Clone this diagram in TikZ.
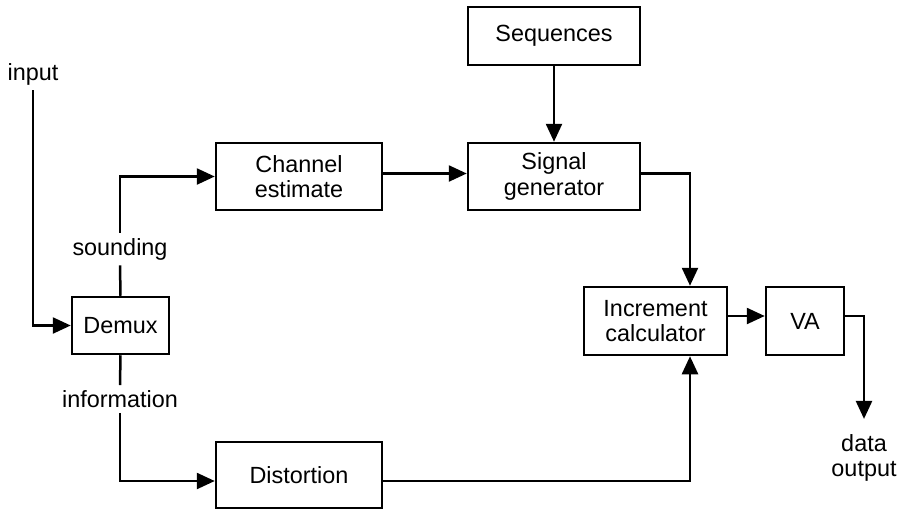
\documentclass[tikz,border=0pt]{standalone}
\usepackage{fontspec}
\setmainfont{Liberation Sans}
\usetikzlibrary{arrows.meta}
\begin{document}
\begin{tikzpicture}[x=0.5pt,y=-0.5pt,
  txt/.style={font=\fontsize{11.7}{12.8}\selectfont},
  box/.style={txt,draw,line width=1.25pt,inner sep=0pt,align=center},
  lbl/.style={txt,inner sep=2.5pt,align=center},
  seg/.style={line width=1.25pt},
  conn/.style={seg,-{Triangle[length=9pt,width=8pt]}}]
\useasboundingbox (0,0) rectangle (905,509);
\node[box,minimum width=48.5pt,minimum height=28.5pt] (demux) at (120.5,325.5) {Demux};
\node[box,minimum width=83pt,minimum height=33.5pt] (chan) at (299,176.5) {Channel\\estimate};
\node[box,minimum width=86pt,minimum height=29pt] (seq) at (554,36) {Sequences};
\node[box,minimum width=86pt,minimum height=33.5pt] (sig) at (554,176.5) {Signal\\generator};
\node[box,minimum width=71.5pt,minimum height=34pt] (inc) at (655.5,321) {Increment\\calculator};
\node[box,minimum width=39pt,minimum height=34pt] (va) at (805,321) {VA};
\node[box,minimum width=83pt,minimum height=33pt] (dist) at (299,475) {Distortion};
\node[lbl] (input) at (33,74) {input};
\node[lbl] (snd) at (120,249) {sounding};
\node[lbl] (info) at (120,399) {information};
\node[lbl] (out) at (864,458) {data\\output};
\coordinate (outtop) at ([yshift=5pt]out.north);
\draw[conn] (input.south) |- (demux.west);
\draw[seg] (demux.north) -- (snd.south);
\draw[conn] (snd.north) |- (chan.west);
\draw[seg] (demux.south) -- (info.north);
\draw[conn] (info.south) |- ([yshift=-3pt]dist.west);
\draw[conn] ([yshift=1.5pt]chan.east) -- ([yshift=1.5pt]sig.west);
\draw[conn] (seq.south) -- (sig.north);
\draw[conn] ([yshift=1.5pt]sig.east) -| ([xshift=17.25pt]inc.north);
\draw[conn] ([yshift=-3pt]dist.east) -| ([xshift=17.25pt]inc.south);
\draw[conn] ([yshift=2.5pt]inc.east) -- ([yshift=2.5pt]va.west);
\draw[conn] ([yshift=2.5pt]va.east) -| (outtop);
\end{tikzpicture}
\end{document}
